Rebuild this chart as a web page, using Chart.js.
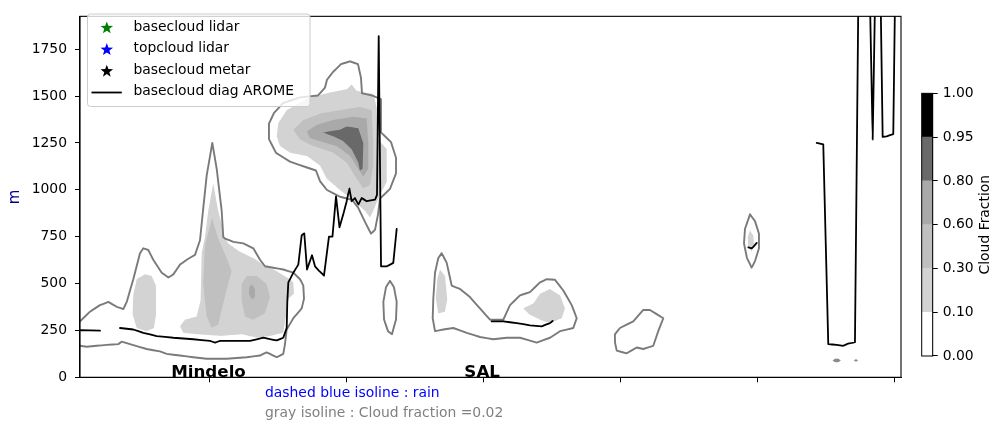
<!DOCTYPE html>
<html><head><meta charset="utf-8">
<script src="https://cdn.jsdelivr.net/npm/chart.js@4.4.0/dist/chart.umd.min.js"></script>
<style>
html,body{margin:0;padding:0;background:#fff;overflow:hidden}
#wrap{position:relative;width:998px;height:423px}
canvas{position:absolute}
</style></head>
<body><div id="wrap">
<canvas id="main" width="998" height="423" style="left:0;top:0"></canvas>
<canvas id="cbar" width="98" height="300" style="left:900px;top:80px"></canvas>
</div>
<script>
// ---------- axes / levels ----------
const xTicks = [20, 40, 60, 80, 100, 120];
const yTicks = [0, 250, 500, 750, 1000, 1250, 1500, 1750];
const cbLevels = [0, 0.1, 0.3, 0.6, 0.8, 0.95, 1];
const cbColors = ['#ffffff', '#d3d3d3', '#c0c0c0', '#a9a9a9', '#696969', '#000000'];
const placeNames = ['Mindelo', 'SAL'];
const placeX = [20, 60];

// ---------- cloud fraction = 0.02 isolines (gray) ----------
const mindeloOutline = [[1,298],[2.46,350],[3.92,385],[5.14,402],[6.36,376],[7.33,364],[7.83,402],[8.79,523],[9.77,662],[10.25,688],[10.98,679],[11.71,627],[12.94,558],[13.91,532],[14.64,549],[15.62,601],[16.6,627],[17.81,653],[18.54,731],[19.02,904],[19.52,1077],[20.34,1250],[20.98,1112],[21.71,887],[21.94,748],[22.19,740],[23.41,722],[24.87,714],[26.33,688],[27.31,627],[28.04,592],[29.25,584],[30.71,575],[32.18,558],[33.16,523],[33.64,489],[33.74,419],[33.4,367],[32.18,315],[31.21,255],[30.96,177],[30.71,125],[29.75,107],[29.25,116],[28.28,133],[27.31,116],[25.36,107],[22.44,99],[19.52,99],[17.56,107],[15.62,116],[13.67,125],[12.69,138],[10.75,151],[8.31,177],[7.09,190],[6.6,177],[4.9,173],[3.44,168],[1.98,163],[1,168]];
const upperOutline = [[40.46,1685],[41.63,1670],[42.07,1597],[42.22,1514],[43.68,1503],[44.99,1483],[44.99,1306],[46.46,1254],[47.19,1171],[47.19,1088],[46.31,1005],[44.85,953],[44.56,869],[44.12,786],[43.53,766],[42.8,818],[41.63,906],[40.76,947],[39.0,963],[37.1,999],[36.08,1046],[35.49,1103],[34.18,1119],[31.69,1150],[29.65,1197],[28.62,1270],[28.62,1353],[29.36,1410],[30.67,1462],[33.16,1493],[35.79,1503],[36.81,1545],[37.1,1587],[37.98,1628],[39.15,1670]];
const ovalOutline = [[46.31,514],[46.89,480],[47.29,402],[47.19,308],[46.6,230],[46.02,246],[45.44,308],[45.34,402],[45.72,480]];
const salOutline = [[53.87,662],[54.6,610],[55.33,489],[56.54,471],[58.0,428],[59.46,367],[60.93,307],[62.87,307],[63.85,385],[65.31,437],[66.77,454],[68.23,506],[69.21,523],[70.43,520],[71.64,463],[72.87,385],[73.6,315],[73.1,263],[71.16,246],[69.7,211],[67.75,185],[65.31,211],[63.37,211],[61.41,203],[59.46,215],[57.52,237],[55.56,263],[54.1,255],[52.89,246],[52.55,315],[52.64,419],[52.89,558],[53.37,636]];
const smallOutline = [[79.18,229],[79.92,263],[81.87,298],[83.33,359],[84.31,359],[86.26,315],[85.52,246],[84.79,168],[83.33,151],[82.37,159],[80.91,128],[79.45,142],[79.2,185]];
const eastOvalOutline = [[98.93,869],[99.66,833],[100.24,766],[100.24,688],[99.66,620],[99.18,584],[98.49,636],[98.05,714],[98.2,792]];
const dotA = [[111.0,90],[111.3,98],[111.6,100],[111.9,98],[112.2,90],[111.9,82],[111.6,80],[111.3,82]];
const dotB = [[114.13,90],[114.42,97],[114.71,90],[114.42,83]];

// ---------- filled cloud fraction areas ----------
// level 1 : 0.10-0.30
const mindeloLeftFill1 = [[9.29,523],[10.5,549],[11.48,540],[12.11,489],[12.11,333],[11.82,263],[10.75,246],[9.29,263],[8.7,333],[8.79,437]];
const mindeloFill1 = [[20.48,1034],[19.75,887],[19.27,748],[18.79,662],[18.64,411],[18.06,324],[16.35,307],[15.62,272],[16.1,237],[18.06,229],[21.46,220],[24.63,229],[26.83,211],[28.77,220],[30.71,237],[31.21,350],[31.45,419],[32.28,445],[32.18,506],[31.69,523],[29.75,566],[27.79,601],[26.33,636],[24.39,670],[22.68,714],[21.94,757],[21.71,818],[21.21,887]];
const upperFill1 = [[29.75,1285],[29.98,1354],[31.21,1424],[34.62,1493],[37.54,1519],[39.98,1536],[40.71,1562],[41.44,1528],[43.87,1510],[44.37,1441],[44.6,1268],[45.83,1218],[45.83,1041],[44.85,973],[43.87,887],[43.39,852],[42.66,887],[41.44,930],[39.0,999],[37.06,1060],[36.08,1129],[34.13,1181],[31.69,1198],[30.23,1233]];
const salFillA = [[53.62,575],[54.35,540],[54.69,419],[54.35,350],[53.37,341],[53.03,419],[53.22,523]];
const salFillB = [[65.8,367],[67.26,393],[68.24,445],[69.7,471],[71.16,437],[71.89,367],[71.4,315],[69.7,289],[68.24,307],[66.77,333]];
const eastOvalFill = [[98.93,783],[99.41,757],[99.51,714],[99.18,670],[98.68,696],[98.6,748]];
// level 2 : 0.30-0.60
const mindeloFill2 = [[20.34,852],[19.27,705],[19.02,497],[19.52,324],[20.25,263],[21.21,281],[21.94,393],[22.92,532],[23.17,566],[22.44,636],[21.21,740],[20.59,812]];
const mindeloRightFill2 = [[25.36,540],[26.83,540],[28.29,497],[28.77,428],[28.04,341],[26.33,307],[25.12,324],[24.63,411],[24.63,497]];
const upperFill2 = [[32.18,1320],[33.64,1372],[36.08,1406],[39.0,1424],[41.92,1441],[43.63,1424],[43.87,1268],[43.87,1129],[43.39,1025],[42.41,1008],[41.44,1060],[39.98,1146],[38.02,1198],[35.1,1233],[33.16,1268]];
// level 3 : 0.60-0.80
const mindeloFill3 = [[26.1,497],[26.58,471],[26.58,428],[26.1,414],[25.7,445],[25.75,480]];
const upperFill3 = [[34.13,1311],[35.6,1346],[38.02,1372],[40.94,1389],[42.9,1380],[43.14,1250],[43.14,1112],[42.41,1069],[41.68,1112],[40.46,1181],[38.52,1233],[36.08,1259],[34.62,1276]];
// level 4 : 0.80-0.95
const upperFill4 = [[36.56,1306],[39.0,1320],[39.98,1337],[41.68,1328],[42.41,1250],[42.32,1112],[41.92,1103],[41.68,1146],[40.71,1216],[39.48,1259],[38.02,1285]];

// ---------- basecloud diag AROME (black) ----------
const aromeSeg1 = [[1,251],[3.92,249]];
const aromeSeg2 = [[6.85,263],[8.79,255],[10.25,237],[12.21,220],[14.64,211],[17.56,203],[20.0,194],[20.73,185],[21.46,194],[23.41,194],[25.85,194],[27.79,211],[28.77,203],[29.75,197],[30.71,211],[31.21,263],[31.3,402],[31.45,506],[32.18,558],[32.91,601],[33.4,757],[33.78,768],[34.18,575],[34.91,651],[35.35,592],[35.94,568],[36.66,542],[37.39,750],[37.9,750],[38.42,965],[38.93,800],[39.48,869],[39.98,939],[40.36,1008],[40.71,939],[41.19,956],[41.68,921],[42.17,956],[42.9,939],[44.12,947],[44.41,973],[44.66,1820],[45.0,592],[45.87,592],[46.79,610],[47.29,792]];
const aromeSeg3 = [[61.17,298],[62.87,298],[64.83,289],[66.77,277],[68.48,272],[69.7,289],[70.09,301]];
const aromeSeg4 = [[98.68,693],[99.18,688],[99.41,696],[99.91,717]];
const aromeSeg5 = [[108.68,1250],[109.64,1242],[110.37,177],[111.6,173],[112.57,168],[113.3,180],[114.27,185],[114.76,2000],[116.47,2000],[116.86,1268],[117.2,2000],[118.03,2000],[118.32,1282],[118.91,1285],[119.87,1297],[120.12,2000]];

// ---------- legend ----------
const legendLabels = ['basecloud lidar', 'topcloud lidar', 'basecloud metar', 'basecloud diag AROME'];
const legendColors = ['#008000', '#0000ff', '#000000', '#000000'];

// ---------- build datasets ----------
const pts = a => a.map(([x, y]) => ({x, y}));
const closed = a => pts(a.concat([a[0]]));
function fillDs(a, color, order) {
  return {data: closed(a), fill: 'shape', backgroundColor: color, borderColor: 'rgba(0,0,0,0)', borderWidth: 0, pointRadius: 0, tension: 0.0001, order};
}
function lineDs(dataPts, color, width, order) {
  return {data: dataPts, fill: false, borderColor: color, borderWidth: width, pointRadius: 0, tension: 0.0001, order, borderJoinStyle: 'round', borderCapStyle: 'round'};
}
const GRAY = '#7a7a7a';
const datasets = [
  ...[aromeSeg1, aromeSeg2, aromeSeg3, aromeSeg4, aromeSeg5].map(s => lineDs(pts(s), '#000', 1.8, 0)),
  lineDs(pts(mindeloOutline), GRAY, 1.9, 1),
  ...[upperOutline, ovalOutline, salOutline, smallOutline, eastOvalOutline].map(s => lineDs(closed(s), GRAY, 1.9, 1)),
  fillDs(dotA, '#8c8c8c', 1), fillDs(dotB, '#8c8c8c', 1),
  fillDs(upperFill4, cbColors[4], 2),
  fillDs(upperFill3, cbColors[3], 3), fillDs(mindeloFill3, cbColors[3], 3),
  fillDs(upperFill2, cbColors[2], 4), fillDs(mindeloFill2, cbColors[2], 4), fillDs(mindeloRightFill2, cbColors[2], 4),
  ...[mindeloLeftFill1, mindeloFill1, upperFill1, salFillA, salFillB, eastOvalFill].map(s => fillDs(s, cbColors[1], 5))
];

Chart.defaults.font.family = "'DejaVu Sans', sans-serif";
Chart.defaults.font.size = 13.9;
Chart.defaults.color = '#000';

const FONT = "'DejaVu Sans', sans-serif";

const framePlugin = {
  id: 'frame',
  afterDatasetsDraw(chart) {
    const {ctx, chartArea: a} = chart;
    ctx.save();
    ctx.strokeStyle = '#000'; ctx.lineWidth = 1.1;
    ctx.strokeRect(a.left, a.top, a.right - a.left, a.bottom - a.top);
    ctx.restore();
  }
};

function star(ctx, cx, cy, R, r) {
  ctx.beginPath();
  for (let i = 0; i < 10; i++) {
    const ang = -Math.PI / 2 + i * Math.PI / 5;
    const rad = i % 2 ? r : R;
    ctx.lineTo(cx + rad * Math.cos(ang), cy + rad * Math.sin(ang));
  }
  ctx.closePath(); ctx.fill();
}

const annotPlugin = {
  id: 'annot',
  afterDraw(chart) {
    const {ctx} = chart;
    const xs = chart.scales.x, ys = chart.scales.y;
    ctx.save();
    // place names
    ctx.font = 'bold 16.7px ' + FONT;
    ctx.fillStyle = '#000'; ctx.textAlign = 'center'; ctx.textBaseline = 'alphabetic';
    placeNames.forEach((n, i) => ctx.fillText(n, xs.getPixelForValue(placeX[i]) - 1.5, ys.getPixelForValue(0) - 0.8));
    // notes under the axis
    ctx.font = '13.9px ' + FONT; ctx.textAlign = 'left'; ctx.textBaseline = 'middle';
    ctx.fillStyle = '#0000ff'; ctx.fillText('dashed blue isoline : rain', 265, 393);
    ctx.fillStyle = '#808080'; ctx.fillText('gray isoline : Cloud fraction =0.02', 265, 413);
    // legend
    const L = 87.5, T = 14, W = 222.5, H = 92.5, rr = 3;
    ctx.beginPath();
    ctx.moveTo(L + rr, T); ctx.lineTo(L + W - rr, T); ctx.quadraticCurveTo(L + W, T, L + W, T + rr);
    ctx.lineTo(L + W, T + H - rr); ctx.quadraticCurveTo(L + W, T + H, L + W - rr, T + H);
    ctx.lineTo(L + rr, T + H); ctx.quadraticCurveTo(L, T + H, L, T + H - rr);
    ctx.lineTo(L, T + rr); ctx.quadraticCurveTo(L, T, L + rr, T); ctx.closePath();
    ctx.fillStyle = 'rgba(255,255,255,0.8)'; ctx.fill();
    ctx.strokeStyle = '#cccccc'; ctx.lineWidth = 1; ctx.stroke();
    const rowsY = [28, 49.7, 71.3, 92.5];
    legendLabels.forEach((lab, i) => {
      const y = rowsY[i];
      ctx.fillStyle = legendColors[i];
      if (i < 3) star(ctx, 106.8, y, 6.6, 2.7);
      else { ctx.strokeStyle = '#000'; ctx.lineWidth = 1.8; ctx.beginPath(); ctx.moveTo(91.5, y); ctx.lineTo(121.8, y); ctx.stroke(); }
      ctx.fillStyle = '#000'; ctx.fillText(lab, 133.5, y - 1);
    });
    ctx.restore();
  }
};

new Chart(document.getElementById('main'), {
  type: 'line',
  data: {datasets},
  options: {
    responsive: false, animation: false, devicePixelRatio: 1,
    layout: {padding: {top: 6.5, right: 97, bottom: 0, left: 0}},
    plugins: {legend: {display: false}, tooltip: {enabled: false}},
    scales: {
      x: {
        type: 'linear', min: 1, max: 121,
        afterBuildTicks: s => { s.ticks = xTicks.map(v => ({value: v})); },
        ticks: {callback: () => '', autoSkip: false},
        grid: {drawOnChartArea: false, drawTicks: true, tickLength: 5, color: '#000', lineWidth: 1},
        border: {display: true, color: '#000', width: 1.1},
        afterFit: s => { s.height = 45.7; }
      },
      y: {
        type: 'linear', min: 0, max: 1925,
        afterBuildTicks: s => { s.ticks = yTicks.map(v => ({value: v})); },
        ticks: {padding: 8, color: '#000', autoSkip: false, callback: v => String(v)},
        grid: {drawOnChartArea: false, drawTicks: true, tickLength: 5, color: '#000', lineWidth: 1},
        border: {display: true, color: '#000', width: 1.1},
        title: {display: true, text: 'm', color: '#00008b', font: {size: 15}, padding: {top: 6, bottom: 0}},
        afterFit: s => { s.width = 80; }
      }
    }
  },
  plugins: [framePlugin, annotPlugin]
});

// ---------- colorbar ----------
const cbPlugin = {
  id: 'cbframe',
  afterDraw(chart) {
    const {ctx, chartArea: a} = chart;
    ctx.save();
    ctx.strokeStyle = '#000'; ctx.lineWidth = 1;
    ctx.strokeRect(a.left, a.top, a.right - a.left, a.bottom - a.top);
    ctx.translate(85, (a.top + a.bottom) / 2);
    ctx.rotate(-Math.PI / 2);
    ctx.font = '13.9px ' + FONT; ctx.fillStyle = '#000';
    ctx.textAlign = 'center'; ctx.textBaseline = 'middle';
    ctx.fillText('Cloud Fraction', 0, 0);
    ctx.restore();
  }
};
new Chart(document.getElementById('cbar'), {
  type: 'bar',
  data: {labels: [''], datasets: cbColors.map(c => ({data: [1], backgroundColor: c, borderWidth: 0, barPercentage: 1, categoryPercentage: 1}))},
  options: {
    responsive: false, animation: false, devicePixelRatio: 1,
    layout: {padding: {left: 21.7, top: 11, bottom: 24, right: 0}},
    plugins: {legend: {display: false}, tooltip: {enabled: false}},
    scales: {
      x: {display: false, stacked: true},
      y: {
        stacked: true, position: 'right', min: 0, max: 6,
        afterBuildTicks: s => { s.ticks = cbLevels.map((v, i) => ({value: i})); },
        ticks: {callback: v => cbLevels[v].toFixed(2), padding: 5, color: '#000', autoSkip: false},
        grid: {drawOnChartArea: false, drawTicks: true, tickLength: 5, color: '#000', lineWidth: 1},
        border: {display: true, color: '#000'},
        afterFit: s => { s.width = 65.3; }
      }
    }
  },
  plugins: [cbPlugin]
});
</script>
</body></html>
